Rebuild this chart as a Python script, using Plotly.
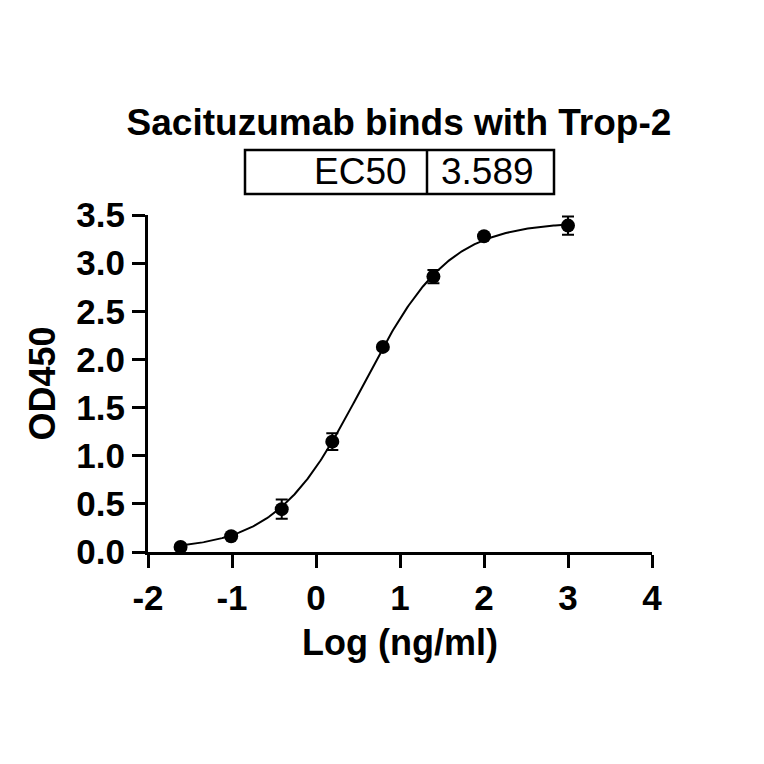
import numpy as np
import plotly.graph_objects as go

# Data (log10 concentration, OD450 mean, SD)
log_conc = [-1.612, -1.010, -0.408, 0.194, 0.796, 1.398, 2.0, 3.0]
od450 = [0.052, 0.164, 0.445, 1.146, 2.13, 2.86, 3.28, 3.39]
od_sd = [0.02, 0.02, 0.10, 0.087, 0.02, 0.07, 0.02, 0.094]

# 4PL fit parameters
ec50 = 3.589
fit_bottom = 0.02
fit_top = 3.43
fit_hill = 0.85

x_ticks = [-2, -1, 0, 1, 2, 3, 4]
y_ticks = [0.0, 0.5, 1.0, 1.5, 2.0, 2.5, 3.0, 3.5]

FONT = "Liberation Sans, Arial, sans-serif"

xc = np.linspace(min(log_conc), max(log_conc), 300)
yc = fit_bottom + (fit_top - fit_bottom) / (1 + 10 ** ((np.log10(ec50) - xc) * fit_hill))

fig = go.Figure()
fig.add_trace(go.Scatter(x=xc, y=yc, mode="lines",
                         line=dict(color="black", width=2), hoverinfo="skip",
                         showlegend=False))
fig.add_trace(go.Scatter(x=log_conc, y=od450, mode="markers",
                         marker=dict(color="black", size=14),
                         error_y=dict(type="data", array=od_sd, visible=True,
                                      color="black", thickness=2, width=6),
                         showlegend=False, cliponaxis=False))

OFF = 8  # page body margin
W = H = 764
# target plot area in screenshot pixels
PL, PR, PT, PB = 148, 652, 215, 552
L = PL - OFF
T = PT - OFF
pw = PR - PL
ph = PB - PT
R = W - L - pw
B = H - T - ph

def px(xs):
    return (xs - PL) / pw

def py(ys):
    return (PB - ys) / ph

box_l, box_r, box_div, box_t, box_b = 245, 554, 427, 150, 194
shapes = [
    dict(type="rect", xref="paper", yref="paper", x0=px(box_l), x1=px(box_r),
         y0=py(box_b), y1=py(box_t), line=dict(color="black", width=2.5)),
    dict(type="line", xref="paper", yref="paper", x0=px(box_div), x1=px(box_div),
         y0=py(box_b), y1=py(box_t), line=dict(color="black", width=2.5)),
]
annotations = [
    dict(text="EC50", xref="paper", yref="paper", x=px(box_div - 18), y=py((box_t + box_b) / 2),
         xanchor="right", yanchor="middle", showarrow=False,
         font=dict(family=FONT, size=37, color="black")),
    dict(text=f"{ec50:.3f}", xref="paper", yref="paper", x=px(box_div + 12), y=py((box_t + box_b) / 2),
         xanchor="left", yanchor="middle", showarrow=False,
         font=dict(family=FONT, size=37, color="black")),
]

fig.update_layout(
    width=W, height=H,
    margin=dict(l=L, r=R, t=T, b=B, pad=0),
    paper_bgcolor="white", plot_bgcolor="white",
    title=dict(text="<b>Sacituzumab binds with Trop-2</b>", x=(399 - OFF) / W, xanchor="center",
               y=1 - (122 - OFF) / H, yanchor="middle",
               font=dict(family=FONT, size=37, color="black")),
    shapes=shapes, annotations=annotations,
    xaxis=dict(range=[-2, 4], tickvals=x_ticks, ticktext=[str(v) for v in x_ticks],
               showgrid=False, zeroline=False, showline=True, linecolor="black", linewidth=3,
               ticks="outside", ticklen=13, tickwidth=3, tickcolor="black",
               tickfont=dict(family=FONT, size=35, color="black", weight="bold"),
               title=dict(text="Log (ng/ml)", standoff=14,
                          font=dict(family=FONT, size=36, color="black", weight="bold"))),
    yaxis=dict(range=[0, 3.5], tickvals=y_ticks, ticktext=[f"{v:.1f}" for v in y_ticks],
               showgrid=False, zeroline=False, showline=True, linecolor="black", linewidth=3,
               ticks="outside", ticklen=13, tickwidth=3, tickcolor="black",
               tickfont=dict(family=FONT, size=35, color="black", weight="bold"),
               title=dict(text="OD450", standoff=10,
                          font=dict(family=FONT, size=36, color="black", weight="bold"))),
)

fig.write_html("out.html")
